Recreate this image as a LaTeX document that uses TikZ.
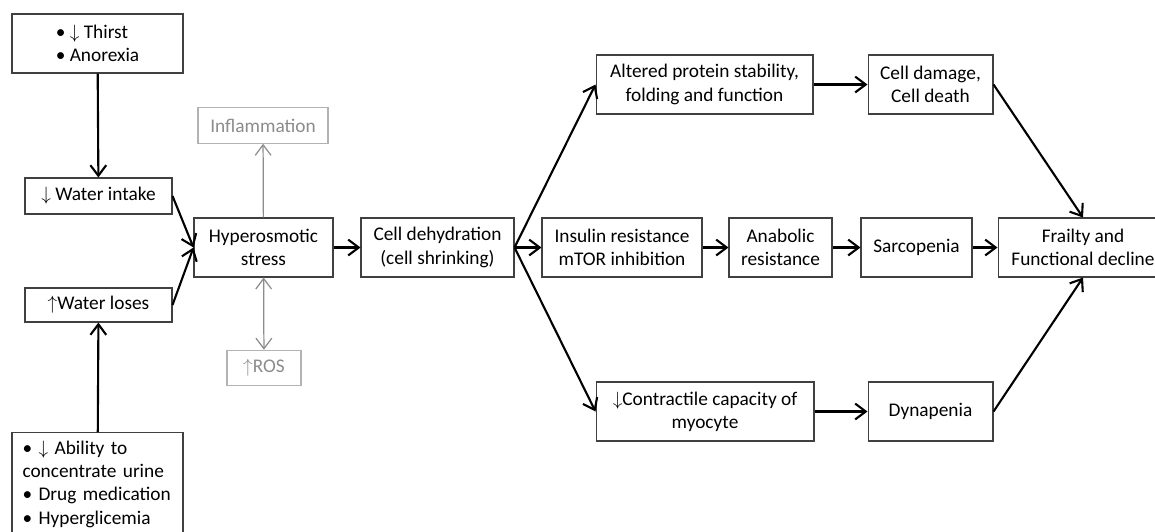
\documentclass[tikz,border=0pt]{standalone}
\usepackage{fontspec}
\setmainfont{Carlito}
\usepackage{tikz}
\usetikzlibrary{arrows.meta}

\tikzset{
  >={Straight Barb[length=6pt,width=9pt]},
  box/.style={draw=black!75, line width=0.6pt, fill=white, align=center,
    inner sep=2pt, minimum height=1.18cm, font=\fontsize{11}{13.2}\selectfont},
  greybox/.style={box, draw=black!30, text=black!45, minimum height=0.71cm},
  flow/.style={->, line width=1.2pt},
  greyflow/.style={line width=0.7pt, draw=black!45},
}

\begin{document}
\begin{tikzpicture}[x=0.02cm, y=-0.02cm]
    \useasboundingbox (0,0) rectangle (1155,531);

    % Causes on the left
    \node[box, align=left, minimum width=3.42cm] (thirst) at (97.5,43.5)
        {\textbullet\ $\downarrow$ Thirst\\ \textbullet\ Anorexia};
    \node[box, minimum width=2.94cm, minimum height=0.72cm] (intake) at (98.5,196)
        {$\downarrow$ Water intake};
    \node[box, minimum width=2.94cm, minimum height=0.68cm] (loses) at (98.5,305)
        {$\uparrow$Water loses};
    \node[box, anchor=north, align=left, text width=3.0cm, inner xsep=0.21cm,
        inner ysep=0.17cm, minimum height=0pt] (urine) at (97.5,432)
        {\textbullet\ $\downarrow$ Ability to\\ concentrate urine\\
         \textbullet\ Drug medication\\ \textbullet\ Hyperglicemia};

    % Stress and its side effects
    \node[box, minimum width=2.78cm] (hyper) at (263.5,247.5) {Hyperosmotic\\ stress};
    \node[greybox, minimum width=2.6cm] (inflam) at (263,125.5) {Inflammation};
    \node[greybox, minimum width=1.48cm] (ros) at (264,368) {$\uparrow$ROS};

    % Cell level
    \node[box, minimum width=3.06cm] (dehyd) at (437.5,247.5) {Cell dehydration\\ (cell shrinking)};
    \node[box, minimum width=4.34cm] (protein) at (704.5,84.5) {Altered protein stability,\\ folding and function};
    \node[box, minimum width=2.5cm] (damage) at (930.5,84.5) {Cell damage,\\ Cell death};
    \node[box, minimum width=3.2cm] (insulin) at (622,247.5) {Insulin resistance\\ mTOR inhibition};
    \node[box, minimum width=2.06cm] (anabolic) at (780.5,247.5) {Anabolic\\ resistance};
    \node[box, minimum width=2.22cm] (sarco) at (916.5,247.5) {Sarcopenia};
    \node[box, minimum width=3.4cm] (frailty) at (1083,247.5) {Frailty and\\ Functional decline};
    \node[box, minimum width=4.36cm] (contract) at (705,411.5) {$\downarrow$Contractile capacity of\\ myocyte};
    \node[box, minimum width=2.5cm] (dyna) at (930.5,411.5) {Dynapenia};

    % Arrows
    \draw[flow] (thirst) -- (intake);
    \draw[flow] (urine) -- (loses);
    \draw[flow] (intake.east) -- (hyper.west);
    \draw[flow] (loses.east) -- (hyper.west);
    \draw[greyflow, ->] (hyper) -- (inflam);
    \draw[greyflow, <->] (hyper) -- (ros);
    \draw[flow] (hyper) -- (dehyd);
    \draw[flow] (dehyd.east) -- (protein.west);
    \draw[flow] (dehyd.east) -- (insulin.west);
    \draw[flow] (dehyd.east) -- (contract.west);
    \draw[flow] (protein) -- (damage);
    \draw[flow] (damage.east) -- (frailty.north);
    \draw[flow] (insulin) -- (anabolic);
    \draw[flow] (anabolic) -- (sarco);
    \draw[flow] (sarco) -- (frailty);
    \draw[flow] (contract) -- (dyna);
    \draw[flow] (dyna.east) -- (frailty.south);
\end{tikzpicture}
\end{document}
